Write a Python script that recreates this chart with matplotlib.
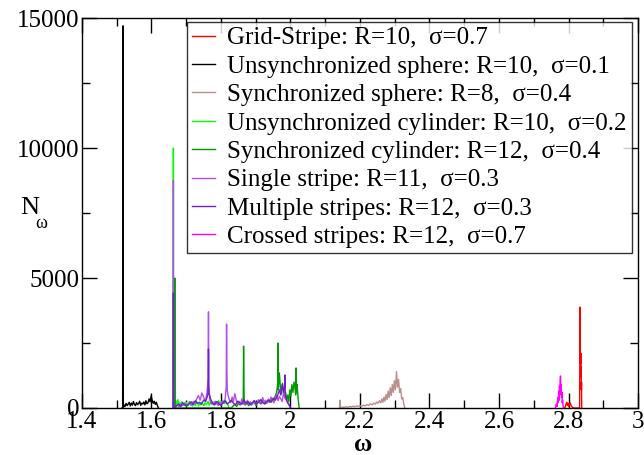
# -*- coding: utf-8 -*-
# Frequency histograms N_omega for the different patterns

import matplotlib
matplotlib.use('Agg')
import matplotlib.pyplot as plt
from matplotlib.ticker import MultipleLocator

plt.rcParams['font.family'] = ['Liberation Serif', 'DejaVu Serif']

# Grid-Stripe: R=10, sigma=0.7
gs_w = [2.789, 2.791, 2.793, 2.795, 2.797, 2.799, 2.801, 2.803, 2.805, 2.807,
        2.809, 2.811, 2.813, 2.816, 2.820, 2.825, 2.830, 2.832, 2.833, 2.834,
        2.835, 2.8355, 2.836, 2.8365, 2.837, 2.8375, 2.838]
gs_n = [0, 60, 150, 220, 100, 180, 60, 130, 200, 110,
        60, 30, 10, 0, 0, 0, 0, 0, 3880, 2200,
        1700, 2100, 1200, 1600, 700, 1000, 0]

# Unsynchronized sphere: R=10, sigma=0.1
us_w = [1.515, 1.517, 1.518, 1.519, 1.521, 1.524, 1.527, 1.530, 1.533, 1.536,
        1.539, 1.542, 1.545, 1.548, 1.551, 1.554, 1.557, 1.560, 1.563, 1.566,
        1.569, 1.572, 1.575, 1.578, 1.581, 1.584, 1.587, 1.590, 1.593, 1.596,
        1.599, 1.602, 1.605, 1.608, 1.611, 1.614, 1.617, 1.620]
us_n = [0, 0, 14700, 0, 120, 60, 180, 90, 150, 220,
        80, 190, 110, 250, 140, 90, 210, 130, 170, 260,
        100, 190, 150, 230, 120, 280, 160, 200, 350, 240,
        460, 300, 180, 260, 140, 220, 90, 0]

# Synchronized sphere: R=8, sigma=0.4
sp_w = [2.141, 2.142, 2.143, 2.146, 2.150, 2.155, 2.160, 2.165, 2.170, 2.175,
        2.180, 2.185, 2.190, 2.195, 2.200, 2.205, 2.210, 2.215, 2.220, 2.225,
        2.230, 2.235, 2.240, 2.244, 2.248, 2.252, 2.256, 2.260, 2.263, 2.266,
        2.269, 2.272, 2.275, 2.278, 2.281, 2.284, 2.287, 2.290, 2.293, 2.296,
        2.299, 2.302, 2.305, 2.308, 2.311, 2.314, 2.317, 2.320, 2.323, 2.326,
        2.329]
sp_n = [0, 300, 0, 20, 40, 20, 50, 30, 60, 40,
        70, 50, 80, 60, 90, 70, 110, 80, 130, 100,
        160, 120, 190, 150, 230, 180, 280, 200, 350, 220,
        420, 260, 520, 330, 650, 400, 780, 480, 900, 600,
        1050, 700, 1400, 800, 1100, 600, 750, 350, 400, 150,
        0]

# Unsynchronized cylinder: R=10, sigma=0.2
uc_w = [1.6625, 1.663, 1.6635, 1.667, 1.670, 1.673, 1.676, 1.679, 1.682, 1.685,
        1.688, 1.691, 1.694, 1.697, 1.700, 1.703, 1.706, 1.709, 1.712, 1.715,
        1.718, 1.721, 1.724, 1.727, 1.730, 1.733, 1.736, 1.739, 1.742, 1.745,
        1.748, 1.751, 1.754, 1.757, 1.760, 1.763, 1.766, 1.769, 1.772, 1.775,
        1.778, 1.781, 1.784, 1.787, 1.790, 1.793, 1.796, 1.799, 1.802, 1.805,
        1.808, 1.811, 1.814, 1.817, 1.820, 1.823]
uc_n = [0, 10000, 0, 150, 280, 90, 320, 120, 200, 60,
        250, 110, 180, 80, 220, 140, 90, 260, 120, 170,
        70, 210, 130, 100, 240, 160, 80, 190, 120, 230,
        150, 90, 200, 130, 170, 260, 110, 180, 220, 140,
        190, 250, 160, 210, 130, 280, 170, 230, 190, 300,
        210, 160, 260, 190, 120, 0]

# Synchronized cylinder: R=12, sigma=0.4
sc_w = [1.6665, 1.667, 1.6675, 1.830, 1.835, 1.840, 1.845, 1.850, 1.855, 1.860,
        1.864, 1.865, 1.866, 1.867, 1.870, 1.875, 1.880, 1.885, 1.890, 1.895,
        1.900, 1.905, 1.910, 1.915, 1.920, 1.925, 1.930, 1.935, 1.940, 1.945,
        1.950, 1.955, 1.960, 1.963, 1.964, 1.965, 1.968, 1.971, 1.974, 1.977,
        1.980, 1.983, 1.986, 1.989, 1.992, 1.995, 1.998, 2.001, 2.004, 2.007,
        2.010, 2.013, 2.015, 2.016, 2.017, 2.019, 2.022, 2.025]
sc_n = [0, 5000, 0, 0, 80, 140, 60, 180, 110, 200,
        150, 2380, 900, 200, 120, 180, 90, 210, 140, 260,
        100, 190, 240, 150, 300, 200, 180, 260, 220, 350,
        280, 420, 600, 900, 2500, 700, 1350, 800, 550, 950,
        700, 400, 600, 300, 500, 250, 700, 450, 900, 600,
        1000, 750, 500, 1540, 600, 900, 350, 0]

# Single stripe: R=11, sigma=0.3
ss_w = [1.6625, 1.663, 1.6635, 1.670, 1.675, 1.680, 1.685, 1.690, 1.695, 1.700,
        1.705, 1.710, 1.715, 1.720, 1.725, 1.730, 1.735, 1.740, 1.745, 1.750,
        1.755, 1.760, 1.763, 1.764, 1.765, 1.768, 1.772, 1.776, 1.780, 1.784,
        1.788, 1.792, 1.796, 1.800, 1.804, 1.808, 1.812, 1.815, 1.816, 1.817,
        1.818, 1.820, 1.824, 1.828, 1.832, 1.836, 1.840, 1.844, 1.848, 1.852,
        1.856, 1.860, 1.864, 1.868, 1.872, 1.876, 1.880, 1.884, 1.888, 1.892,
        1.896, 1.900, 1.904, 1.908, 1.912, 1.916, 1.920, 1.924, 1.928, 1.932,
        1.936, 1.940, 1.944, 1.948, 1.952, 1.956, 1.960, 1.964, 1.968, 1.972,
        1.976, 1.980, 1.984, 1.988, 1.992, 1.996, 2.000]
ss_n = [0, 8770, 0, 60, 120, 40, 150, 90, 200, 70,
        130, 180, 100, 250, 160, 350, 480, 300, 580, 420,
        250, 600, 1200, 3700, 900, 300, 150, 220, 120, 260,
        180, 90, 200, 140, 280, 190, 350, 800, 3230, 1600,
        700, 500, 320, 200, 420, 260, 550, 300, 180, 260,
        140, 350, 220, 120, 200, 300, 160, 240, 110, 190,
        280, 150, 230, 320, 180, 260, 400, 220, 300, 180,
        350, 260, 420, 300, 200, 380, 500, 280, 450, 350,
        250, 600, 400, 300, 200, 120, 0]

# Multiple stripes: R=12, sigma=0.3
ms_w = [1.6625, 1.663, 1.6635, 1.672, 1.678, 1.684, 1.690, 1.696, 1.702, 1.708,
        1.714, 1.720, 1.726, 1.732, 1.738, 1.744, 1.750, 1.756, 1.762, 1.7635,
        1.764, 1.7645, 1.770, 1.776, 1.782, 1.788, 1.794, 1.800, 1.806, 1.812,
        1.818, 1.824, 1.830, 1.836, 1.842, 1.848, 1.854, 1.860, 1.866, 1.872,
        1.878, 1.884, 1.890, 1.896, 1.902, 1.908, 1.914, 1.920, 1.926, 1.932,
        1.938, 1.944, 1.950, 1.956, 1.962, 1.968, 1.972, 1.976, 1.980, 1.983,
        1.984, 1.985, 1.988, 1.992, 1.996, 2.000]
ms_n = [0, 4420, 0, 80, 150, 60, 200, 110, 90, 170,
        240, 130, 280, 180, 220, 150, 300, 260, 500, 800,
        2270, 600, 350, 180, 120, 250, 160, 90, 200, 280,
        150, 220, 300, 180, 120, 260, 200, 150, 310, 180,
        240, 120, 200, 280, 160, 230, 320, 200, 150, 260,
        300, 220, 380, 300, 450, 700, 500, 900, 600, 800,
        1270, 500, 350, 200, 120, 0]

# Crossed stripes: R=12, sigma=0.7
cs_w = [2.762, 2.765, 2.767, 2.769, 2.770, 2.772, 2.773, 2.774, 2.775, 2.776,
        2.777, 2.778, 2.779, 2.780, 2.781, 2.782, 2.783, 2.785]
cs_n = [0, 150, 60, 400, 200, 650, 300, 850, 500, 1050,
        1230, 700, 900, 400, 600, 200, 300, 0]

series = [
    (gs_w, gs_n, '#ff0000', 'Grid-Stripe: R=10,  \u03c3=0.7'),
    (us_w, us_n, '#000000', 'Unsynchronized sphere: R=10,  \u03c3=0.1'),
    (sp_w, sp_n, '#bc8f8f', 'Synchronized sphere: R=8,  \u03c3=0.4'),
    (uc_w, uc_n, '#00ff00', 'Unsynchronized cylinder: R=10,  \u03c3=0.2'),
    (sc_w, sc_n, '#009a00', 'Synchronized cylinder: R=12,  \u03c3=0.4'),
    (ss_w, ss_n, '#b050e8', 'Single stripe: R=11,  \u03c3=0.3'),
    (ms_w, ms_n, '#7020c8', 'Multiple stripes: R=12,  \u03c3=0.3'),
    (cs_w, cs_n, '#ff00ff', 'Crossed stripes: R=12,  \u03c3=0.7'),
]

fig = plt.figure(figsize=(6.44, 4.55), dpi=100)
ax = fig.add_axes([0.1273, 0.1033, 0.8634, 0.8571])

for w, n, col, lab in series:
    assert len(w) == len(n), lab
    ax.plot(w, n, color=col, lw=1.0, label=lab)

ax.set_xlim(1.4, 3.0)
ax.set_ylim(0, 15000)
ax.xaxis.set_major_locator(MultipleLocator(0.2))
ax.xaxis.set_minor_locator(MultipleLocator(0.1))
ax.yaxis.set_major_locator(MultipleLocator(5000))
ax.yaxis.set_minor_locator(MultipleLocator(2500))
ax.set_xticks([1.4, 1.6, 1.8, 2.0, 2.2, 2.4, 2.6, 2.8, 3.0])
ax.set_xticklabels(['1.4', '1.6', '1.8', '2', '2.2', '2.4', '2.6', '2.8', '3'])
ax.tick_params(which='both', direction='in', top=True, right=True,
               labelsize=18, pad=2, width=1)
ax.tick_params(which='major', length=11)
ax.tick_params(which='minor', length=6)
for s in ax.spines.values():
    s.set_linewidth(1.0)

# axis titles
fig.text(363 / 644, 1 - 451 / 455, '\u03c9', fontsize=18, fontweight='bold',
         ha='center', va='baseline')
fig.text(30 / 644, 1 - 208 / 455, 'N', fontsize=19, ha='center', va='center')
fig.text(41 / 644, 1 - 224 / 455, '\u03c9', fontsize=13, ha='center', va='center')

leg = ax.legend(loc='upper right', bbox_to_anchor=(0.989, 0.99),
                borderaxespad=0, fontsize=18, frameon=True, fancybox=False,
                handlelength=0.92, handletextpad=0.48, labelspacing=0.235,
                borderpad=0.2)
leg.get_frame().set_edgecolor('black')
leg.get_frame().set_linewidth(1.0)

fig.savefig('out.png', dpi=100)
